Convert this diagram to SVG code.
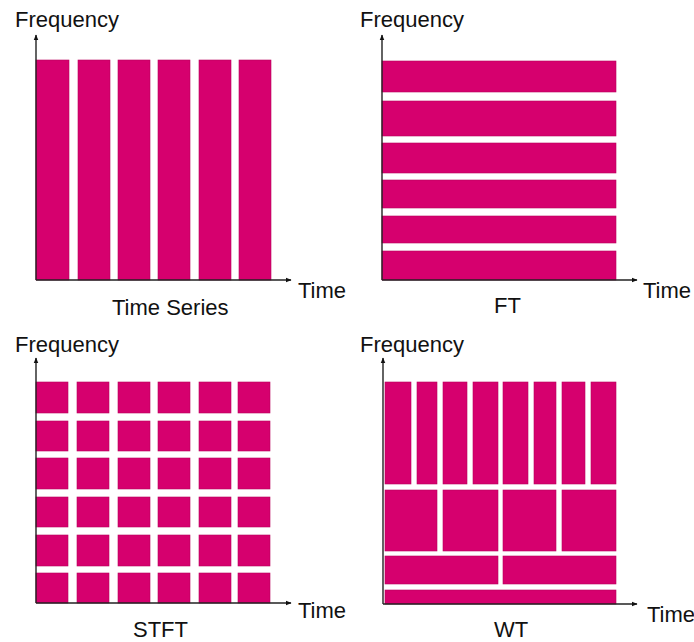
<svg xmlns="http://www.w3.org/2000/svg" width="694" height="642" viewBox="0 0 694 642">
<defs>
<marker id="ah" viewBox="0 0 10 10" refX="9" refY="5" markerWidth="6" markerHeight="6" markerUnits="userSpaceOnUse" orient="auto">
<path d="M0,1 L10,5 L0,9 Z" fill="#111"/>
</marker>
<style>
.b{fill:#d6006e;stroke:#b8005c;stroke-width:0.6}
.ax{stroke:#222;stroke-width:1.4;fill:none}
text{font-family:"Liberation Sans",Arial,sans-serif;font-size:22px;fill:#111}
</style>
</defs>
<rect width="694" height="642" fill="#fff"/>
<g id="timeseries">
<rect class="b" x="36" y="60" width="33" height="220"/>
<rect class="b" x="78" y="60" width="32" height="220"/>
<rect class="b" x="118" y="60" width="32" height="220"/>
<rect class="b" x="158" y="60" width="32" height="220"/>
<rect class="b" x="199" y="60" width="32" height="220"/>
<rect class="b" x="239" y="60" width="32" height="220"/>
<text x="15" y="27">Frequency</text>
<text x="298" y="298">Time</text>
<text x="112" y="315">Time Series</text>
</g>
<g id="ft">
<rect class="b" x="382" y="61" width="234" height="31"/>
<rect class="b" x="382" y="101" width="234" height="35"/>
<rect class="b" x="382" y="143" width="234" height="30"/>
<rect class="b" x="382" y="180" width="234" height="28"/>
<rect class="b" x="382" y="216" width="234" height="27"/>
<rect class="b" x="382" y="251" width="234" height="29"/>
<text x="360" y="27">Frequency</text>
<text x="643" y="298">Time</text>
<text x="494" y="313">FT</text>
</g>
<g id="stft">
<g id="stft-cells">
<rect class="b" x="36" y="382" width="32" height="31"/><rect class="b" x="77" y="382" width="32" height="31"/><rect class="b" x="118" y="382" width="32" height="31"/><rect class="b" x="158" y="382" width="32" height="31"/><rect class="b" x="199" y="382" width="32" height="31"/><rect class="b" x="238" y="382" width="32" height="31"/>
<rect class="b" x="36" y="421" width="32" height="30"/><rect class="b" x="77" y="421" width="32" height="30"/><rect class="b" x="118" y="421" width="32" height="30"/><rect class="b" x="158" y="421" width="32" height="30"/><rect class="b" x="199" y="421" width="32" height="30"/><rect class="b" x="238" y="421" width="32" height="30"/>
<rect class="b" x="36" y="458" width="32" height="31"/><rect class="b" x="77" y="458" width="32" height="31"/><rect class="b" x="118" y="458" width="32" height="31"/><rect class="b" x="158" y="458" width="32" height="31"/><rect class="b" x="199" y="458" width="32" height="31"/><rect class="b" x="238" y="458" width="32" height="31"/>
<rect class="b" x="36" y="497" width="32" height="30"/><rect class="b" x="77" y="497" width="32" height="30"/><rect class="b" x="118" y="497" width="32" height="30"/><rect class="b" x="158" y="497" width="32" height="30"/><rect class="b" x="199" y="497" width="32" height="30"/><rect class="b" x="238" y="497" width="32" height="30"/>
<rect class="b" x="36" y="535" width="32" height="31"/><rect class="b" x="77" y="535" width="32" height="31"/><rect class="b" x="118" y="535" width="32" height="31"/><rect class="b" x="158" y="535" width="32" height="31"/><rect class="b" x="199" y="535" width="32" height="31"/><rect class="b" x="238" y="535" width="32" height="31"/>
<rect class="b" x="36" y="573" width="32" height="30"/><rect class="b" x="77" y="573" width="32" height="30"/><rect class="b" x="118" y="573" width="32" height="30"/><rect class="b" x="158" y="573" width="32" height="30"/><rect class="b" x="199" y="573" width="32" height="30"/><rect class="b" x="238" y="573" width="32" height="30"/>
</g>
<text x="15" y="352">Frequency</text>
<text x="298" y="618">Time</text>
<text x="133" y="637">STFT</text>
</g>
<g id="wt">
<rect class="b" x="385" y="382" width="26" height="102"/>
<rect class="b" x="417" y="382" width="20" height="102"/>
<rect class="b" x="443" y="382" width="24" height="102"/>
<rect class="b" x="473" y="382" width="25" height="102"/>
<rect class="b" x="503" y="382" width="25" height="102"/>
<rect class="b" x="534" y="382" width="22" height="102"/>
<rect class="b" x="562" y="382" width="23" height="102"/>
<rect class="b" x="591" y="382" width="25" height="102"/>
<rect class="b" x="385" y="490" width="52" height="61"/>
<rect class="b" x="443" y="490" width="55" height="61"/>
<rect class="b" x="503" y="490" width="53" height="61"/>
<rect class="b" x="562" y="490" width="54" height="61"/>
<rect class="b" x="385" y="556" width="113" height="28"/>
<rect class="b" x="503" y="556" width="113" height="28"/>
<rect class="b" x="385" y="590" width="231" height="14"/>
<text x="360" y="352">Frequency</text>
<text x="647" y="622">Time</text>
<text x="494" y="637">WT</text>
</g>
<g id="connectors">
<path class="ax" d="M36,280 V35" marker-end="url(#ah)"/>
<path class="ax" d="M36,280 H291" marker-end="url(#ah)"/>
<path class="ax" d="M382,280 V35" marker-end="url(#ah)"/>
<path class="ax" d="M382,280 H637" marker-end="url(#ah)"/>
<path class="ax" d="M36,603 V358" marker-end="url(#ah)"/>
<path class="ax" d="M36,603 H291" marker-end="url(#ah)"/>
<path class="ax" d="M383,604 V358" marker-end="url(#ah)"/>
<path class="ax" d="M383,604 H637" marker-end="url(#ah)"/>
</g>
</svg>
